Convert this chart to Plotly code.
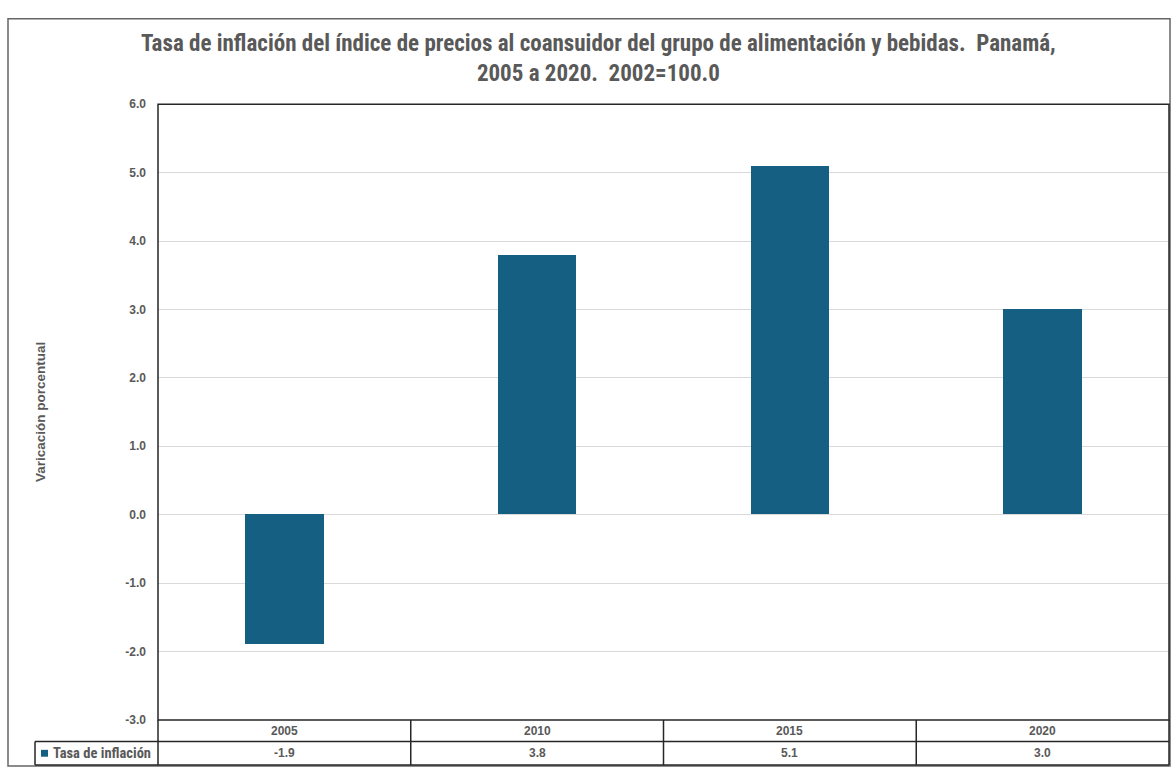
import plotly.graph_objects as go

# Data
years = ["2005", "2010", "2015", "2020"]
inflation = [-1.9, 3.8, 5.1, 3.0]
series_name = "Tasa de inflación"
title_text = ("Tasa de inflación del índice de precios al coansuidor del grupo de alimentación y bebidas.  Panamá,"
              "<br>2005 a 2020.  2002=100.0")
y_title = "Varicación porcentual"
y_ticks = [-3, -2, -1, 0, 1, 2, 3, 4, 5, 6]

W, H = 1174, 775
BAR_COLOR = "#156082"
TEXT_GRAY = "#595959"
LINE_DARK = "#262626"
GRID = "#d9d9d9"
NARROW = "Liberation Sans Narrow, Roboto Condensed, Arial Narrow, sans-serif"
SANS = "Liberation Sans, Arial, sans-serif"


def px(x):
    return x / W


def py(y):
    return 1 - y / H


# plot area in pixels
L, R, T, B = 158, 1169, 99, 726
ROW1, ROW2 = 748, 772
LEGEND_LEFT = 35

fig = go.Figure()
fig.add_trace(go.Bar(
    x=years, y=inflation, name=series_name,
    marker=dict(color=BAR_COLOR, line=dict(width=0)),
    width=0.31, showlegend=False,
))

shapes = []
# outer chart border
shapes.append(dict(type="rect", xref="paper", yref="paper",
                   x0=px(8), x1=px(1170), y0=py(773), y1=py(12),
                   line=dict(color="#666666", width=1.5), layer="below"))
# plot area frame
shapes.append(dict(type="rect", xref="paper", yref="paper",
                   x0=px(L), x1=px(R), y0=py(B), y1=py(T),
                   line=dict(color=LINE_DARK, width=1.5)))

# data table grid
n = len(years)
cell_w = (R - L) / n
for yline in (ROW1, ROW2):
    shapes.append(dict(type="line", xref="paper", yref="paper",
                       x0=px(LEGEND_LEFT), x1=px(R), y0=py(yline), y1=py(yline),
                       line=dict(color=LINE_DARK, width=1.5)))
shapes.append(dict(type="line", xref="paper", yref="paper",
                   x0=px(LEGEND_LEFT), x1=px(LEGEND_LEFT), y0=py(ROW2), y1=py(ROW1),
                   line=dict(color=LINE_DARK, width=1.5)))
for i in range(n + 1):
    xv = L + i * cell_w
    shapes.append(dict(type="line", xref="paper", yref="paper",
                       x0=px(xv), x1=px(xv), y0=py(ROW2), y1=py(B),
                       line=dict(color=LINE_DARK, width=1.5)))
# legend key in table
shapes.append(dict(type="rect", xref="paper", yref="paper",
                   x0=px(41), x1=px(48), y0=py(763.5), y1=py(756.5),
                   fillcolor=BAR_COLOR, line=dict(width=0)))

annotations = []
for i, (yr, v) in enumerate(zip(years, inflation)):
    cx = L + (i + 0.5) * cell_w
    annotations.append(dict(xref="paper", yref="paper", x=px(cx), y=py((B + ROW1) / 2),
                            text=yr, showarrow=False, xanchor="center", yanchor="middle",
                            font=dict(family=SANS, size=12, color=TEXT_GRAY, weight="bold")))
    annotations.append(dict(xref="paper", yref="paper", x=px(cx), y=py((ROW1 + ROW2) / 2),
                            text=f"{v:.1f}", showarrow=False, xanchor="center", yanchor="middle",
                            font=dict(family=SANS, size=12, color=TEXT_GRAY, weight="bold")))
annotations.append(dict(xref="paper", yref="paper", x=px(51), y=py((ROW1 + ROW2) / 2),
                        text=series_name, showarrow=False, xanchor="left", yanchor="middle",
                        font=dict(family=NARROW, size=14.5, color=TEXT_GRAY, weight="bold")))
annotations.append(dict(xref="paper", yref="paper", x=px(40), y=py((T + B) / 2),
                        text=y_title, showarrow=False, textangle=-90,
                        xanchor="center", yanchor="middle",
                        font=dict(family=SANS, size=13.5, color=TEXT_GRAY, weight="bold")))
annotations.append(dict(xref="paper", yref="paper", x=px(598), y=py(52),
                        text=title_text, showarrow=False, xanchor="center", yanchor="middle",
                        align="center",
                        font=dict(family=NARROW, size=23, color=TEXT_GRAY, weight="bold")))

fig.update_layout(
    width=W, height=H,
    margin=dict(l=0, r=0, t=0, b=0),
    paper_bgcolor="white", plot_bgcolor="white",
    shapes=shapes, annotations=annotations,
    xaxis=dict(domain=[px(L), px(R)], showticklabels=False, showgrid=False,
               zeroline=False, showline=False, ticks=""),
    yaxis=dict(domain=[py(B), py(T)], range=[-3, 6],
               tickmode="array", tickvals=y_ticks,
               ticktext=[f"{t:.1f}" for t in y_ticks],
               showgrid=True, gridcolor=GRID, gridwidth=1,
               zeroline=True, zerolinecolor=GRID, zerolinewidth=1,
               showline=False, ticks="", ticklabelstandoff=11,
               tickfont=dict(family=SANS, size=12, color=TEXT_GRAY, weight="bold")),
    bargap=0,
)

fig.write_html("out.html")
